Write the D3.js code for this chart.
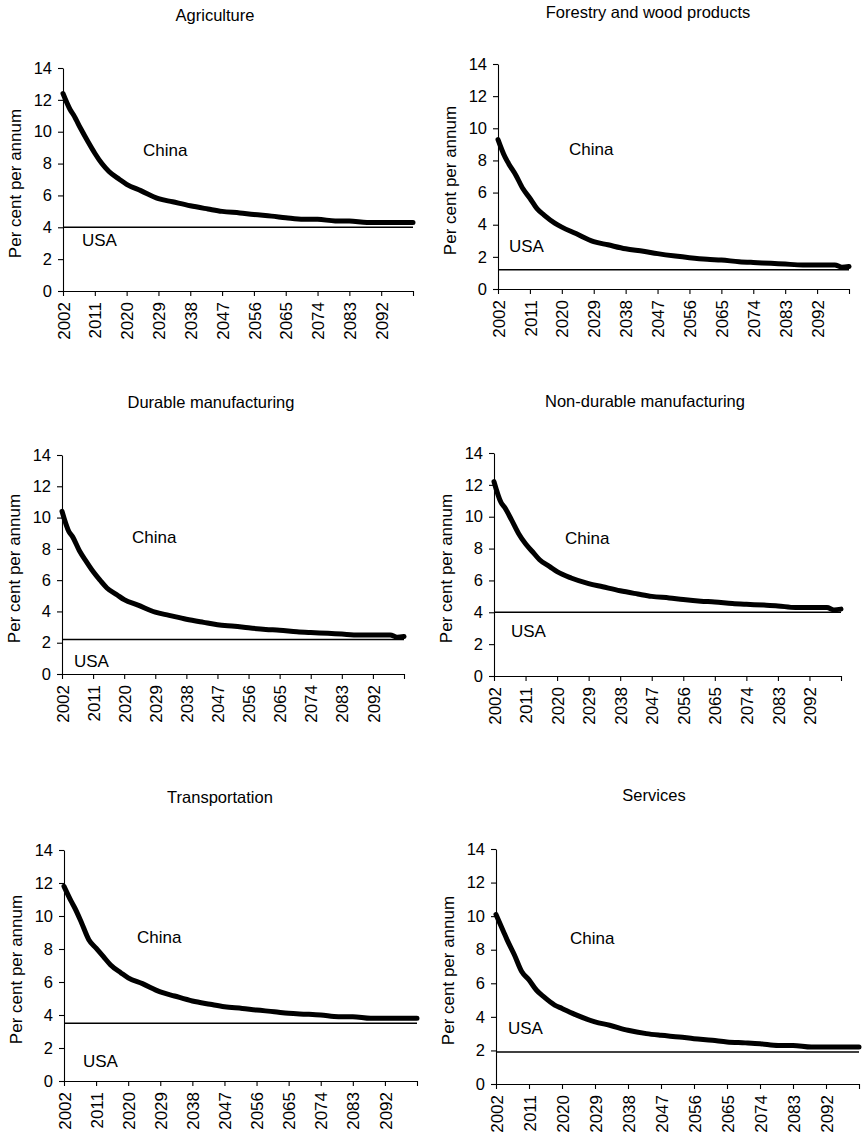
<!DOCTYPE html>
<html>
<head>
    <meta charset="utf-8">
    <title>China vs USA productivity growth by sector</title>
    <style type="text/css">
    body { margin: 0; background: #fff; }
    text { font-family: "Liberation Sans", Arial, sans-serif; fill: #000; }
    </style>
</head>
<body>

    <script src="https://d3js.org/d3.v7.min.js"></script>
    <script>
      // data
      var titles = ["Agriculture", "Forestry and wood products", "Durable manufacturing",
                    "Non-durable manufacturing", "Transportation", "Services"];

      var years = [2002, 2004, 2005, 2007, 2009, 2011, 2013, 2015, 2018, 2020, 2024, 2029, 2033, 2038, 2043,
                   2047, 2052, 2056, 2061, 2065, 2070, 2074, 2079, 2083, 2088, 2092, 2097, 2099, 2101];

      var agriculture    = [12.4, 11.4, 11.05, 10.2, 9.4, 8.65, 8.0, 7.5, 7.0, 6.7, 6.3, 5.8, 5.6, 5.35, 5.15,
                            5.0, 4.9, 4.8, 4.7, 4.6, 4.5, 4.5, 4.4, 4.4, 4.3, 4.3, 4.3, 4.3, 4.3];
      var forestry       = [9.3, 8.2, 7.8, 7.1, 6.25, 5.65, 5.0, 4.6, 4.1, 3.85, 3.45, 2.95, 2.75, 2.5, 2.35,
                            2.2, 2.05, 1.95, 1.85, 1.8, 1.7, 1.65, 1.6, 1.55, 1.5, 1.5, 1.5, 1.35, 1.4];
      var durable        = [10.4, 9.1, 8.8, 7.9, 7.2, 6.55, 6.0, 5.5, 5.05, 4.75, 4.4, 3.95, 3.75, 3.5, 3.3,
                            3.15, 3.05, 2.95, 2.85, 2.8, 2.7, 2.65, 2.6, 2.55, 2.5, 2.5, 2.5, 2.35, 2.4];
      var nondurable     = [12.2, 10.9, 10.6, 9.8, 8.95, 8.3, 7.8, 7.3, 6.85, 6.55, 6.15, 5.8, 5.6, 5.35, 5.15,
                            5.0, 4.9, 4.8, 4.7, 4.65, 4.55, 4.5, 4.45, 4.4, 4.3, 4.3, 4.3, 4.15, 4.2];
      var transportation = [11.8, 10.9, 10.5, 9.55, 8.55, 8.05, 7.55, 7.05, 6.55, 6.25, 5.9, 5.4, 5.15, 4.85, 4.65,
                            4.5, 4.4, 4.3, 4.2, 4.1, 4.05, 4.0, 3.9, 3.9, 3.8, 3.8, 3.8, 3.8, 3.8];
      var services       = [10.1, 9.1, 8.6, 7.7, 6.7, 6.2, 5.6, 5.2, 4.7, 4.5, 4.1, 3.7, 3.5, 3.2, 3.0,
                            2.9, 2.8, 2.7, 2.6, 2.5, 2.45, 2.4, 2.3, 2.3, 2.2, 2.2, 2.2, 2.2, 2.2];

      var chinaSeries = [agriculture, forestry, durable, nondurable, transportation, services];
      var usaValues   = [4.0, 1.2, 2.2, 4.0, 3.5, 1.9];

      var yTicks    = [0, 2, 4, 6, 8, 10, 12, 14];
      var yearTicks = [2002, 2011, 2020, 2029, 2038, 2047, 2056, 2065, 2074, 2083, 2092];
      var yearEnd   = 2101;

      // where each panel sits on the page
      var layout = [
        {x0: 63,  x1: 413, yTop: 68,  yBot: 291,  titleX: 215, titleY: 21,  china: [143, 156], usa: [82, 246]},
        {x0: 498, x1: 849, yTop: 64,  yBot: 289,  titleX: 648, titleY: 18,  china: [569, 155], usa: [509, 252]},
        {x0: 62,  x1: 404, yTop: 455, yBot: 674,  titleX: 211, titleY: 408, china: [132, 543], usa: [74, 667]},
        {x0: 494, x1: 841, yTop: 453, yBot: 676,  titleX: 645, titleY: 407, china: [565, 544], usa: [511, 637]},
        {x0: 64,  x1: 417, yTop: 850, yBot: 1081, titleX: 220, titleY: 803, china: [137, 943], usa: [83, 1067]},
        {x0: 496, x1: 859, yTop: 849, yBot: 1084, titleX: 654, titleY: 801, china: [570, 944], usa: [508, 1034]}
      ];

      var svg = d3.select("body")
          .append("svg")
          .attr("width", 862)
          .attr("height", 1148);

      titles.forEach(function(title, i){
        var L = layout[i];
        var g = svg.append("g");

        var xScale = d3.scaleLinear().domain([years[0], yearEnd]).range([L.x0, L.x1]);
        var yScale = d3.scaleLinear().domain([0, 14]).range([L.yBot, L.yTop]);

        // title
        g.append("text")
            .attr("x", L.titleX)
            .attr("y", L.titleY)
            .attr("text-anchor", "middle")
            .attr("font-size", "16.5px")
            .text(title);

        // y axis
        var yAxis = g.append("g")
            .attr("transform", "translate(" + L.x0 + ",0)")
            .call(d3.axisLeft(yScale).tickValues(yTicks).tickSize(5).tickSizeOuter(0).tickPadding(6));
        yAxis.selectAll("text")
            .attr("font-size", "16.5px")
            .attr("font-family", "'Liberation Sans', Arial, sans-serif");

        // x axis
        var xAxis = g.append("g")
            .attr("transform", "translate(0," + L.yBot + ")")
            .call(d3.axisBottom(xScale)
                .tickValues(yearTicks.concat([yearEnd]))
                .tickFormat(function(d){ return d === yearEnd ? "" : d; })
                .tickSize(5).tickSizeOuter(0));
        xAxis.selectAll("text")
            .attr("font-size", "17px")
            .attr("font-family", "'Liberation Sans', Arial, sans-serif")
            .attr("text-anchor", "end")
            .attr("transform", "rotate(-90)")
            .attr("x", -11)
            .attr("y", 0)
            .attr("dy", "0.36em");

        g.selectAll(".domain, .tick line").attr("stroke", "#000").attr("stroke-width", 1.1);

        // axis label
        g.append("text")
            .attr("transform", "translate(" + (L.x0 - 48) + "," + ((L.yTop + L.yBot) / 2 + 4) + ") rotate(-90)")
            .attr("text-anchor", "middle")
            .attr("dy", "0.35em")
            .attr("font-size", "17px")
            .text("Per cent per annum");

        // USA level
        g.append("line")
            .attr("x1", xScale(years[0]))
            .attr("x2", xScale(yearEnd))
            .attr("y1", yScale(usaValues[i]))
            .attr("y2", yScale(usaValues[i]))
            .attr("stroke", "#000")
            .attr("stroke-width", 1.5);

        // China path
        var line = d3.line()
            .x(function(d, j){ return xScale(years[j]); })
            .y(function(d){ return yScale(d); })
            .curve(d3.curveMonotoneX);

        g.append("path")
            .datum(chinaSeries[i])
            .attr("d", line)
            .attr("fill", "none")
            .attr("stroke", "#000")
            .attr("stroke-width", 5)
            .attr("stroke-linecap", "round")
            .attr("stroke-linejoin", "round");

        g.append("text")
            .attr("x", L.china[0])
            .attr("y", L.china[1])
            .attr("font-size", "17px")
            .text("China");

        g.append("text")
            .attr("x", L.usa[0])
            .attr("y", L.usa[1])
            .attr("font-size", "17px")
            .text("USA");
      });
    </script>
</body>
</html>
